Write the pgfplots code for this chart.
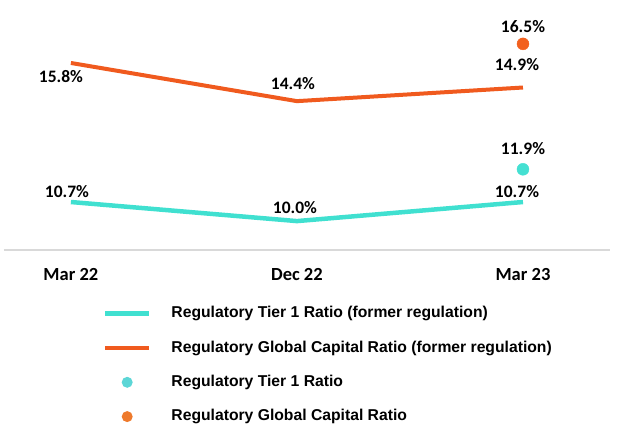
\documentclass[border=0pt]{standalone}
\usepackage{fontspec}
\setmainfont{Liberation Sans}
\newfontfamily\carlito{Carlito}
\usepackage{pgfplots}
\pgfplotsset{compat=1.18}

\definecolor{orangeline}{HTML}{F05A1E}
\definecolor{tealline}{HTML}{40E0D0}
\definecolor{orangedot}{HTML}{F2601E}
\definecolor{tealdot}{HTML}{45E0D2}
\definecolor{orangeleg}{HTML}{EE7A2C}
\definecolor{tealleg}{HTML}{5CD6D6}

\pgfplotsset{
  linelegend/.style={legend image code/.code={\draw[##1] (0pt,0pt) -- (44pt,0pt);}},
  dotlegend/.style={legend image code/.code={%
    \path[draw=none,fill=none] (0pt,-1pt) rectangle (44pt,1pt);
    \fill[draw=none,#1] (22pt,0pt) circle (5.5pt);}},
  lbl/.style={
    nodes near coords={\pgfmathprintnumber[fixed,fixed zerofill,precision=1]{\pgfplotspointmeta}\%},
    point meta=y,
    visualization depends on={value \thisrow{dx} \as \dx},
    visualization depends on={value \thisrow{dy} \as \dy},
    every node near coord/.append style={anchor=center, inner sep=0pt,
      xshift=\dx pt, yshift=\dy pt, text=black,
      font=\carlito\bfseries\fontsize{17.5}{20}\selectfont},
  },
}

\begin{document}
\begin{tikzpicture}[x=1pt,y=1pt]
\useasboundingbox (0,0) rectangle (618,433);
\begin{axis}[
  at={(4pt,183pt)}, anchor=south west,
  scale only axis, width=606pt, height=250pt,
  xmin=-0.296, xmax=2.385, ymin=8.94, ymax=18.11,
  axis y line=none, axis x line=bottom,
  x axis line style={-, draw=black!15, line width=2pt},
  xtick={0,1,2}, xticklabels={Mar 22,Dec 22,Mar 23},
  major tick length=0pt,
  xticklabel style={font=\carlito\bfseries\fontsize{18.5}{20}\selectfont,
    anchor=center, yshift=-25pt},
  /pgf/number format/assume math mode=true,
  clip=false,
  legend cell align=left,
  legend style={draw=none, fill=none, at={(0.158,-0.214)}, anchor=north west,
    font=\bfseries\fontsize{15.7}{18}\selectfont,
    nodes={inner sep=0pt, text height=12pt, text depth=4pt},
    row sep=18.3pt,
    /tikz/every odd column/.append style={column sep=20pt}},
]
\addplot[tealline, line width=4.5pt, linelegend, lbl] table {
x y dx dy
0 10.7 -4 10
1 10.0 -2 14
2 10.7 -6 10
};
\addlegendentry{Regulatory Tier 1 Ratio (former regulation)}
\addplot[orangeline, line width=4pt, linelegend, lbl] table {
x y dx dy
0 15.8 -10 -14
1 14.4 -4 18
2 14.9 -6 23
};
\addlegendentry{Regulatory Global Capital Ratio (former regulation)}
\addplot[only marks, mark=*, mark size=6pt, tealdot, dotlegend=tealleg, lbl] table {
x y dx dy
2 11.9 0 21
};
\addlegendentry{Regulatory Tier 1 Ratio}
\addplot[only marks, mark=*, mark size=6pt, orangedot, dotlegend=orangeleg, lbl] table {
x y dx dy
2 16.5 0 17
};
\addlegendentry{Regulatory Global Capital Ratio}
\end{axis}
\end{tikzpicture}
\end{document}
